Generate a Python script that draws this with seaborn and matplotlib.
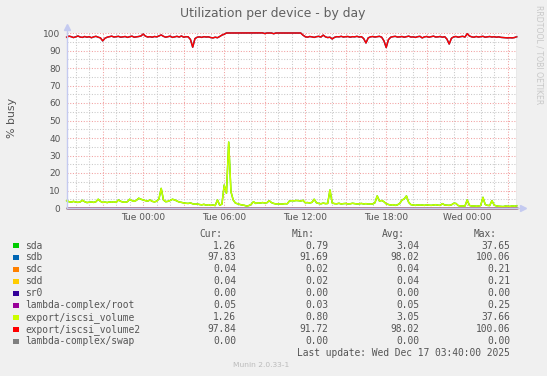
import matplotlib
matplotlib.use("Agg")
import matplotlib.pyplot as plt
import matplotlib.dates as mdates
from matplotlib.ticker import MultipleLocator, FuncFormatter
from matplotlib.patches import Rectangle
import pandas as pd
import seaborn as sns

# ---------------- data ----------------
start_time = "2025-12-15 18:20"
end_time = "2025-12-17 03:40"
step = "10min"

iscsi_volume2 = [
    97.6, 98.2, 97.9, 97.4, 97.8, 98.3, 97.7, 97.5, 98.0, 97.6,
    97.9, 97.3, 97.8, 98.1, 97.6, 97.2, 95.5, 97.0, 97.6, 97.9,
    98.2, 97.7, 97.9, 98.1, 97.6, 97.8, 98.0, 97.5, 97.9, 98.2,
    97.6, 97.8, 98.0, 98.3, 99.4, 98.2, 97.7, 97.9, 97.6, 98.0,
    97.8, 98.3, 98.9, 98.1, 97.6, 97.9, 98.2, 97.5, 97.8, 98.1,
    97.7, 98.3, 97.6, 97.9, 97.8, 96.3, 91.9, 96.8, 97.6, 97.8,
    97.5, 97.9, 97.7, 97.8, 97.4, 97.2, 97.6, 97.3, 98.0, 98.8,
    99.3, 100.0, 100.0, 100.0, 100.0, 100.0, 100.0, 100.0, 100.0, 100.0,
    100.0, 100.0, 100.0, 100.0, 100.0, 100.0, 100.0, 100.06, 99.7, 100.0,
    100.0, 100.0, 99.6, 100.0, 100.0, 100.0, 100.0, 100.0, 100.0, 100.0,
    100.0, 100.0, 100.0, 100.0, 100.0, 98.8, 97.9, 97.6, 98.0, 97.8,
    97.5, 97.9, 98.1, 97.7, 98.8, 97.8, 97.4, 97.6, 96.6, 97.5,
    97.9, 97.8, 98.1, 97.7, 97.9, 98.0, 97.6, 97.9, 97.8, 98.1,
    97.7, 97.9, 96.8, 94.3, 97.2, 97.8, 98.0, 97.7, 97.9, 98.1,
    97.6, 95.5, 91.72, 96.2, 97.6, 97.9, 98.1, 97.7, 97.8, 98.0,
    97.6, 97.9, 98.2, 97.7, 97.8, 97.5, 97.9, 98.1, 97.2, 97.8,
    98.0, 97.6, 97.9, 98.2, 97.7, 97.8, 98.0, 97.6, 97.9, 96.5,
    93.7, 97.0, 97.8, 98.0, 97.6, 97.9, 98.1, 97.7, 99.6, 98.3,
    97.8, 97.6, 98.0, 97.7, 97.9, 98.1, 97.6, 97.8, 98.0, 97.7,
    97.9, 97.6, 97.8, 97.5, 97.4, 97.3, 97.2, 97.3, 97.2, 97.4,
    97.84,
]

iscsi_volume = [
    4.2, 3.6, 3.3, 3.8, 3.4, 3.2, 3.5, 4.4, 3.6, 3.1,
    3.3, 3.5, 3.2, 3.6, 5.0, 3.8, 3.2, 3.4, 3.1, 3.5,
    3.3, 3.6, 3.2, 4.6, 3.8, 3.4, 3.3, 3.6, 5.0, 4.2,
    3.8, 4.4, 5.6, 5.0, 4.6, 4.2, 3.9, 4.6, 3.8, 3.5,
    3.9, 5.2, 11.2, 4.6, 3.6, 3.8, 4.3, 5.0, 4.6, 4.0,
    3.4, 3.2, 2.9, 2.7, 2.6, 2.9, 2.4, 2.2, 2.3, 2.0,
    1.8, 2.1, 1.6, 1.9, 1.5, 1.7, 1.4, 4.6, 1.6, 2.2,
    13.1, 8.4, 37.66, 9.3, 4.6, 2.8, 2.4, 2.0, 1.7, 1.5,
    1.1, 1.4, 2.1, 3.6, 2.6, 3.0, 2.8, 3.1, 2.9, 3.0,
    4.2, 3.1, 2.6, 2.3, 2.4, 2.2, 2.3, 2.5, 2.4, 4.0,
    4.2, 4.1, 4.3, 4.2, 4.0, 4.4, 3.0, 3.1, 2.9, 3.2,
    5.0, 3.0, 2.6, 2.4, 2.8, 2.5, 2.6, 10.3, 2.9, 2.5,
    2.4, 2.7, 2.3, 2.5, 2.6, 2.3, 2.4, 2.7, 2.5, 2.3,
    2.4, 2.6, 2.3, 2.5, 2.2, 2.4, 2.3, 3.0, 6.9, 4.0,
    4.3, 3.6, 2.4, 2.0, 1.7, 1.9, 1.5, 1.8, 2.6, 4.5,
    5.2, 6.9, 3.2, 1.9, 1.7, 1.5, 1.8, 1.6, 1.7, 1.5,
    1.8, 1.6, 1.5, 1.7, 1.9, 1.6, 1.5, 2.5, 1.7, 1.6,
    1.5, 1.8, 2.7, 2.6, 1.4, 1.1, 1.2, 1.1, 4.6, 1.5,
    1.1, 1.2, 1.0, 1.1, 1.4, 6.1, 2.0, 1.5, 1.4, 4.2,
    1.6, 1.2, 1.0, 0.9, 0.8, 1.1, 1.0, 0.9, 1.2, 1.0,
    1.26,
]

# sda / sdb are indistinguishable from the iscsi volumes in the picture
sda = iscsi_volume
sdb = iscsi_volume2
n_points = len(iscsi_volume)
sdc = [0.04] * n_points
sdd = [0.04] * n_points
sr0 = [0.00] * n_points
lambda_root = [0.05] * n_points
lambda_swap = [0.00] * n_points

names = ["sda", "sdb", "sdc", "sdd", "sr0", "lambda-complex/root",
         "export/iscsi_volume", "export/iscsi_volume2", "lambda-complex/swap"]
colors = ["#00CC00", "#0066B3", "#FF8000", "#FFCC00", "#330099", "#990099",
          "#CCFF00", "#FF0000", "#808080"]
series = [sda, sdb, sdc, sdd, sr0, lambda_root, iscsi_volume, iscsi_volume2, lambda_swap]

cur_vals = [1.26, 97.83, 0.04, 0.04, 0.00, 0.05, 1.26, 97.84, 0.00]
min_vals = [0.79, 91.69, 0.02, 0.02, 0.00, 0.03, 0.80, 91.72, 0.00]
avg_vals = [3.04, 98.02, 0.04, 0.04, 0.00, 0.05, 3.05, 98.02, 0.00]
max_vals = [37.65, 100.06, 0.21, 0.21, 0.00, 0.25, 37.66, 100.06, 0.00]

title = "Utilization per device - by day"
ylabel = "% busy"
last_update = "Last update: Wed Dec 17 03:40:00 2025"

# ---------------- figure ----------------
W, H = 547, 376
times = pd.date_range(start_time, end_time, freq=step)
frames = []
for nm, vals in zip(names, series):
    frames.append(pd.DataFrame({"time": times, "value": vals, "device": nm}))
df = pd.concat(frames, ignore_index=True)

fig = plt.figure(figsize=(W / 100, H / 100), dpi=100, facecolor="#F0F0F0")
ax = fig.add_axes([66.7 / W, 1 - 208 / H, 450 / W, 175 / H])
ax.set_facecolor("white")

sns.lineplot(data=df, x="time", y="value", hue="device", hue_order=names,
             palette=dict(zip(names, colors)), ax=ax, legend=False,
             estimator=None, sort=False, linewidth=1.05, clip_on=False)

t0, t1 = pd.Timestamp(start_time), pd.Timestamp(end_time)
ax.set_xlim(t0, t1)
ax.set_ylim(0, 100)

ax.xaxis.set_major_locator(mdates.HourLocator(byhour=range(0, 24, 3)))
ax.xaxis.set_minor_locator(mdates.HourLocator())


def fmt(v, pos):
    d = mdates.num2date(v)
    return d.strftime("%a %H:%M") if d.hour % 6 == 0 else ""


ax.xaxis.set_major_formatter(FuncFormatter(fmt))
ax.yaxis.set_major_locator(MultipleLocator(10))
ax.yaxis.set_minor_locator(MultipleLocator(5))

ax.set_axisbelow(True)
ax.grid(which="minor", color="#C8C8C8", linestyle=(0, (1, 1.6)), linewidth=0.75)
ax.grid(which="major", color="#F2A0A0", linestyle=(0, (1, 1.6)), linewidth=0.75)

ax.tick_params(which="both", length=0, labelsize=6.5, colors="#555555")
ax.tick_params(axis="x", pad=3.5)
ax.tick_params(axis="y", pad=4.5)
ax.set_xlabel("")
ax.set_ylabel("")

for s in ["top", "right"]:
    ax.spines[s].set_visible(False)
for s in ["left", "bottom"]:
    ax.spines[s].set_color("#C4CAF0")
    ax.spines[s].set_linewidth(1.0)

# right-edge rule
ax.axvline(t1, color="#909090", linewidth=1.0, zorder=5)

# axis arrows
ax.plot([0, 0], [1, 1.03], transform=ax.transAxes, color="#C4CAF0", lw=1.0, clip_on=False)
ax.plot([0], [1.035], transform=ax.transAxes, marker="^", color="#C4CAF0", ms=5, clip_on=False)
ax.plot([1, 1.01], [0, 0], transform=ax.transAxes, color="#C4CAF0", lw=1.0, clip_on=False)
ax.plot([1.013], [0], transform=ax.transAxes, marker=">", color="#C4CAF0", ms=5, clip_on=False)

# texts
fig.text(273 / W, 1 - 14 / H, title, ha="center", va="center", fontsize=8.9, color="#606060")
fig.text(12 / W, 1 - 118 / H, ylabel, rotation=90, ha="center", va="center",
         fontsize=7.9, color="#555555")
fig.text(539 / W, 1 - 55 / H, "RRDTOOL / TOBI OETIKER", rotation=270, ha="center",
         va="center", fontsize=5.6, color="#C8C8C8")

mono = "DejaVu Sans Mono"
lfs = 6.9
lcol = "#555555"
header_y = 1 - 233.7 / H
for label, xr in zip(["Cur:", "Min:", "Avg:", "Max:"], [222.7, 314.7, 405, 497]):
    fig.text(xr / W, header_y, label, ha="right", va="center", family=mono, fontsize=lfs, color=lcol)

for k, nm in enumerate(names):
    yc = 245.5 + 12 * k
    fy = 1 - yc / H
    fig.patches.append(Rectangle((13.2 / W, 1 - (yc + 2.9) / H), 5.8 / W, 5.8 / H,
                                 transform=fig.transFigure, facecolor=colors[k],
                                 edgecolor="none", figure=fig))
    fig.text(25.3 / W, fy, nm, ha="left", va="center", family=mono, fontsize=lfs, color=lcol)
    for vals, xr in zip([cur_vals, min_vals, avg_vals, max_vals], [236, 328, 419, 510]):
        fig.text(xr / W, fy, f"{vals[k]:.2f}", ha="right", va="center", family=mono,
                 fontsize=lfs, color=lcol)

fig.text(510 / W, 1 - 353.3 / H, last_update, ha="right", va="center", family=mono,
         fontsize=lfs, color=lcol)
fig.text(261 / W, 1 - 365 / H, "Munin 2.0.33-1", ha="center", va="center",
         fontsize=5.4, color="#BBBBBB")

fig.savefig("out.png", dpi=100, facecolor=fig.get_facecolor())
